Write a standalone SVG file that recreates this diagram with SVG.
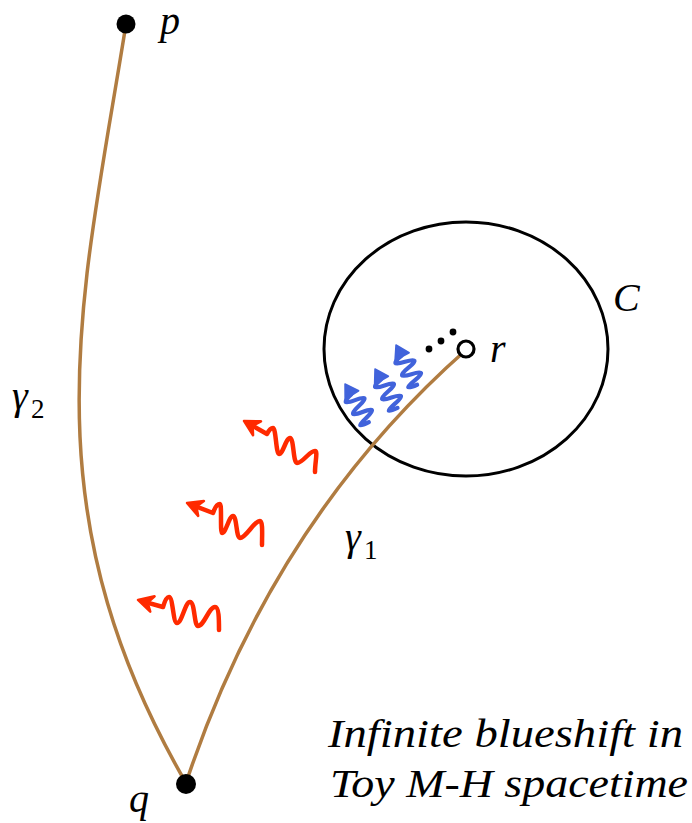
<svg xmlns="http://www.w3.org/2000/svg" width="692" height="823" viewBox="0 0 692 823">
<style>
.curve{fill:none;stroke:#B07C41;stroke-width:3.5;stroke-linecap:round}
.red{fill:none;stroke:#FF2A00;stroke-width:4.5;stroke-linecap:round;stroke-linejoin:round;marker-start:url(#rh)}
.s{font-family:'Liberation Serif','DejaVu Serif',serif;font-style:italic;font-size:40px;fill:#000}
.sub{font-family:'Liberation Serif','DejaVu Serif',serif;font-size:27px;fill:#000}
</style>
<defs>
<marker id="rh" markerUnits="userSpaceOnUse" markerWidth="30" markerHeight="30" viewBox="-15 -15 30 30" refX="0" refY="0" orient="auto-start-reverse" overflow="visible">
<path d="M5,0 L-10,-8 L-5,0 L-10,8 Z" fill="#FF2A00" stroke="#FF2A00" stroke-width="2.5" stroke-linejoin="round"/>
</marker>
<g id="bw">
<path d="M0,0 L13,-8 L13,8 Z" fill="#4163DB" stroke="#4163DB" stroke-width="1.5" stroke-linejoin="round"/>
<path d="M12,0 Q15.5,18 19,0 T26,0 T33,0 T40,0 T45,0" fill="none" stroke="#4163DB" stroke-width="4.2" stroke-linecap="round" stroke-linejoin="round"/>
</g>
</defs>
<rect width="692" height="823" fill="#fff"/>
<g id="circleC">
<ellipse cx="466" cy="349" rx="142" ry="127" fill="none" stroke="#000" stroke-width="3"/>
</g>
<g id="connectors">
<path id="gamma2" class="curve" d="M126,24 C83,294 24,503 186,783"/>
<path id="gamma1" class="curve" d="M186,783 C240,620 330,470 466,350"/>
</g>
<g id="redwaves">
<path class="red" d="M248.3,423.4 L267,434 Q270,428 273,428 C276,428 276,454 279,454 C283,454 286,438 290,438 C294,438 293,463 297,463 C303,463 309,451 315,451 C318,451 315,462 315,472"/>
<path class="red" d="M191.7,504.8 L213,513 Q216,504 220,504 C222,504 220,533 222,533 C226,533 229,516 233,516 C237,516 236,538 240,538 C246,538 254,521 260,521 C263,521 262,535 262,545"/>
<path class="red" d="M142.8,601.3 L163,607 Q166,597 169,597 C173,597 173,623 177,623 C182,623 185,602 190,602 C195,602 194,626 198,626 C204,626 209,607 215,607 C219,607 219,620 219,630"/>
</g>
<g id="bluewaves">
<use href="#bw" transform="translate(345,384) rotate(58)"/>
<use href="#bw" transform="translate(375,369) rotate(60)"/>
<use href="#bw" transform="translate(396,345) rotate(62)"/>
</g>
<g id="dots">
<circle cx="429" cy="349" r="3.4" fill="#000"/>
<circle cx="441" cy="341" r="3.4" fill="#000"/>
<circle cx="453" cy="332" r="3.4" fill="#000"/>
</g>
<g id="node-r">
<circle cx="466" cy="349" r="8" fill="#fff" stroke="#000" stroke-width="3.2"/>
<text class="s" x="490" y="362">r</text>
</g>
<g id="node-p">
<circle cx="126" cy="24" r="9.5" fill="#000"/>
<text class="s" x="160" y="34">p</text>
</g>
<g id="node-q">
<circle cx="186" cy="784" r="10" fill="#000"/>
<text class="s" x="129" y="812">q</text>
</g>
<g id="label-C">
<text class="s" x="613" y="311">C</text>
</g>
<g id="label-gamma2">
<text class="s" x="12" y="409">γ</text>
<text class="sub" x="31" y="418">2</text>
</g>
<g id="label-gamma1">
<text class="s" x="345" y="550">γ</text>
<text class="sub" x="364" y="559">1</text>
</g>
<g id="caption">
<text class="s" x="328" y="747" textLength="355" lengthAdjust="spacingAndGlyphs">Infinite blueshift in</text>
<text class="s" x="330" y="797" textLength="358" lengthAdjust="spacingAndGlyphs">Toy M-H spacetime</text>
</g>
</svg>
